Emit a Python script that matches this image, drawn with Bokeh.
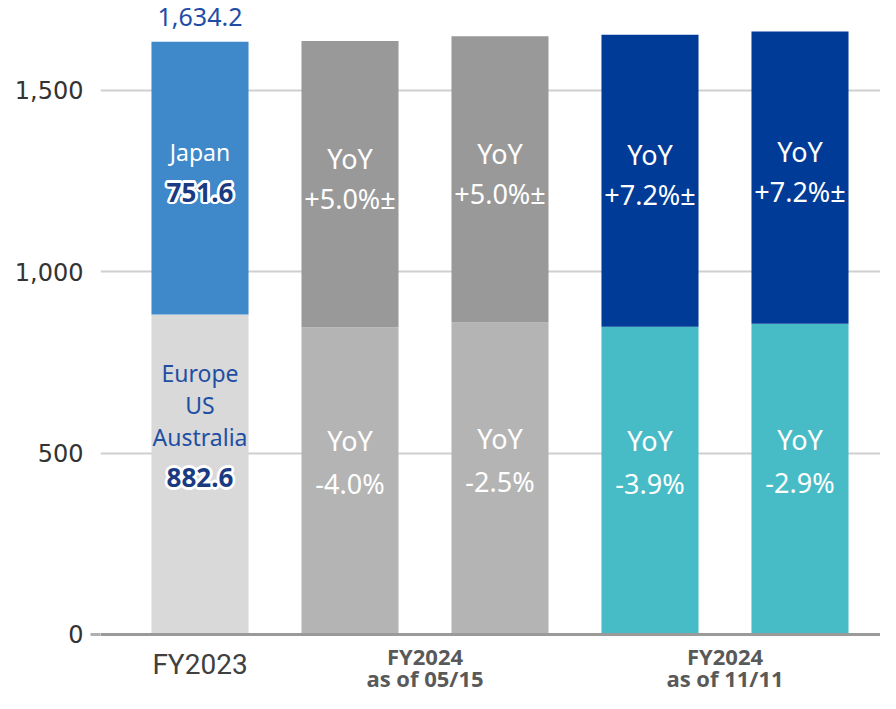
import numpy as np
from bokeh.plotting import figure
from bokeh.models import ColumnDataSource, Range1d, LinearAxis, FixedTicker, Span
from bokeh.core.properties import value
from bokeh.embed import file_html
from bokeh.resources import INLINE

# ---------------- data ----------------
positions = [0, 1, 2, 3, 4]
overseas = [882.6, 847.3, 860.5, 848.2, 857.0]          # Europe / US / Australia
japan = [751.6, 789.2, 789.2, 805.7, 805.7]             # Japan
overseas_colors = ["#D9D9D9", "#B4B4B4", "#B4B4B4", "#47BCC6", "#47BCC6"]
japan_colors = ["#3F88C9", "#999999", "#999999", "#003B98", "#003B98"]

japan_caption = ["Japan", "YoY", "YoY", "YoY", "YoY"]
japan_value = ["751.6", "+5.0%±", "+5.0%±", "+7.2%±", "+7.2%±"]
overseas_caption = ["Europe\nUS\nAustralia", "YoY", "YoY", "YoY", "YoY"]
overseas_value = ["882.6", "-4.0%", "-2.5%", "-3.9%", "-2.9%"]
total_label = ["1,634.2", "", "", "", ""]

yticks = [0, 500, 1000, 1500]
ytick_labels = {0: "0", 500: "500", 1000: "1,000", 1500: "1,500"}

group_positions = [0, 1.5, 3.5]
group_line1 = ["FY2023", "FY2024", "FY2024"]
group_line2 = ["", "as of 05/15", "as of 11/11"]

# ---------------- derived ----------------
ov = np.array(overseas)
jp = np.array(japan)
top = ov + jp

src = ColumnDataSource(dict(x=positions, ov=ov, top=top, ovc=overseas_colors, jpc=japan_colors))

p = figure(width=880, height=693, x_range=Range1d(-0.6633, 4.5367),
           y_range=Range1d(-162.7, 1748.1),
           x_axis_location=None, y_axis_location=None,
           toolbar_location=None, output_backend="svg",
           min_border_left=100, min_border_right=0, min_border_top=0, min_border_bottom=0)
p.outline_line_color = None
p.xgrid.visible = False
p.ygrid.ticker = FixedTicker(ticks=yticks[1:])
p.ygrid.grid_line_color = "#CFCFCF"
p.ygrid.grid_line_width = 2

# axes: inner tick-only axis for the 0 tick, outer label axis
ax_tick = LinearAxis(ticker=FixedTicker(ticks=[0]), axis_line_color=None,
                     major_tick_out=10, major_tick_in=0,
                     major_tick_line_color="#B0B0B0", major_tick_line_width=3,
                     minor_tick_line_color=None, major_label_standoff=0,
                     major_label_overrides={0: ""}, major_label_text_font_size="1px")
p.add_layout(ax_tick, "left")
ax_lab = LinearAxis(ticker=FixedTicker(ticks=yticks), axis_line_color=None,
                    major_tick_line_color=None, major_tick_out=0, major_tick_in=0,
                    minor_tick_line_color=None, major_label_standoff=7,
                    major_label_overrides=ytick_labels,
                    major_label_text_font="DejaVu Sans",
                    major_label_text_font_size="24px",
                    major_label_text_color="#333333")
p.add_layout(ax_lab, "left")

BW = 0.647
p.vbar(x="x", bottom=0, top="ov", width=BW, fill_color="ovc", line_color=None, source=src)
p.vbar(x="x", bottom="ov", top="top", width=BW, fill_color="jpc", line_color=None, source=src)

p.add_layout(Span(location=0, dimension="width", line_color="#9A9A9A", line_width=3))

F = value("Noto Sans")

# in-bar texts for bars 2..5
sub = ColumnDataSource(dict(
    x=positions[1:], jm=(ov + jp / 2)[1:], om=(ov / 2)[1:],
    jcap=japan_caption[1:], jval=japan_value[1:],
    ocap=overseas_caption[1:], oval=overseas_value[1:],
))
for col, ycol, dy in [("jcap", "jm", -26), ("jval", "jm", 14), ("ocap", "om", -40), ("oval", "om", 3)]:
    p.text(x="x", y=ycol, text=col, source=sub, y_offset=dy, text_align="center",
           text_baseline="middle", text_color="white", text_font=F, text_font_size="27px")

# bar 1 captions
first = ColumnDataSource(dict(x=[positions[0]], jm=[ov[0] + jp[0] / 2], om=[ov[0] / 2],
                              top=[top[0]], tot=[total_label[0]],
                              jcap=[japan_caption[0]], ocap=[overseas_caption[0]]))
p.text(x="x", y="jm", text="jcap", source=first, y_offset=-26, text_align="center",
       text_baseline="middle", text_color="white", text_font=F, text_font_size="23px")
p.text(x="x", y="om", text="ocap", source=first, y_offset=-69, text_align="center",
       text_baseline="middle", text_color="#1F4FA3", text_font=F, text_font_size="23px",
       text_line_height=1.0)
p.text(x="x", y="top", text="tot", source=first, y_offset=-25, text_align="center",
       text_baseline="middle", text_color="#1F4DA6", text_font=F, text_font_size="25px")

# haloed values
halo_data = dict(x=[positions[0], positions[0]], y=[ov[0] + jp[0] / 2, ov[0] / 2],
                 t=[japan_value[0], overseas_value[0]], dy=[14, 3])
for ang in np.linspace(0, 2 * np.pi, 16, endpoint=False):
    d = dict(halo_data)
    d["dy2"] = [v + 2.6 * np.sin(ang) for v in halo_data["dy"]]
    s = ColumnDataSource(d)
    p.text(x="x", y="y", text="t", source=s, x_offset=2.6 * np.cos(ang), y_offset="dy2",
           text_align="center", text_baseline="middle", text_color="white", text_font=F,
           text_font_size="26px", text_font_style="bold")
p.text(x="x", y="y", text="t", source=ColumnDataSource(halo_data), y_offset="dy",
       text_align="center", text_baseline="middle", text_color="#1A3A82", text_font=F,
       text_font_size="26px", text_font_style="bold")

# category labels below the baseline
g0 = ColumnDataSource(dict(x=group_positions[:1], y=[0], l1=group_line1[:1]))
g1 = ColumnDataSource(dict(x=group_positions[1:], y=[0, 0], l1=group_line1[1:], l2=group_line2[1:]))
p.text(x="x", y="y", text="l1", source=g0, y_offset=30, text_align="center",
       text_baseline="middle", text_color="#404040", text_font=value("Roboto"),
       text_font_size="28px")
p.text(x="x", y="y", text="l1", source=g1, y_offset=22, text_align="center",
       text_baseline="middle", text_color="#595959", text_font=value("Open Sans"),
       text_font_size="22px", text_font_style="bold")
p.text(x="x", y="y", text="l2", source=g1, y_offset=44, text_align="center",
       text_baseline="middle", text_color="#595959", text_font=value("Open Sans"),
       text_font_size="22px", text_font_style="bold")

open("out.html", "w").write(file_html(p, INLINE))
